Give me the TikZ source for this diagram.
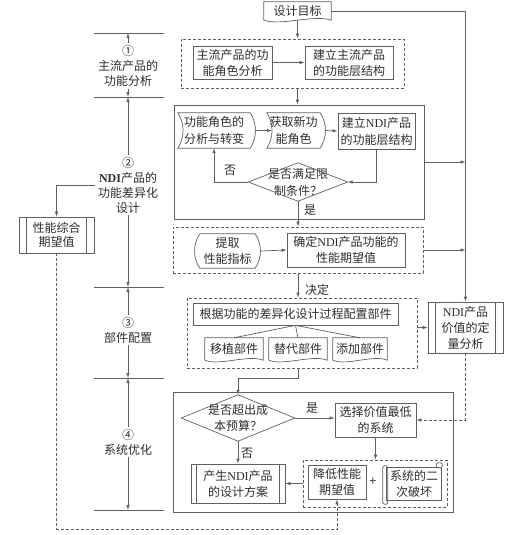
\documentclass[tikz,border=0pt]{standalone}
\usepackage{fontspec}
\setmainfont{Noto Sans CJK SC}
\newfontfamily\lat{Liberation Serif}
\usetikzlibrary{arrows.meta,calc}
\definecolor{lnc}{RGB}{95,95,95}
\definecolor{txc}{RGB}{45,45,45}
\newcommand\NDI{{\lat NDI}}
\newcommand\NDIb{{\lat\bfseries NDI}}
\newcommand\docshape[1]{\draw[ln] (#1.north west) -- (#1.north east) -- (#1.south east) .. controls ($(#1.south)!0.5!(#1.south east)+(0,6pt)$) and ($(#1.south)!0.5!(#1.south west)+(0,-6pt)$) .. (#1.south west) -- cycle;}
\newcommand\sdshape[3]{\draw[ln] (#1.north west) .. controls ($(#1.north west)!0.3!(#1.south west)+(#2,0)$) and ($(#1.north west)!0.7!(#1.south west)+(#2,0)$) .. (#1.south west) -- (#1.south east) .. controls ($(#1.north east)!0.7!(#1.south east)+(#3,0)$) and ($(#1.north east)!0.3!(#1.south east)+(#3,0)$) .. (#1.north east) -- cycle;}
\newcommand\diashape[1]{\draw[ln] (#1.north) -- (#1.east) -- (#1.south) -- (#1.west) -- cycle;}
\newcommand\subr[2]{\draw[ln] ([xshift=#2]#1.north west) -- ([xshift=#2]#1.south west); \draw[ln] ([xshift=-#2]#1.north east) -- ([xshift=-#2]#1.south east);}
\begin{document}
\begin{tikzpicture}[x=1pt,y=-1pt,
 ln/.style={draw=lnc, line width=0.7pt},
 arr/.style={ln, -{Latex[length=5pt,width=3.5pt]}},
 dim/.style={ln, {Latex[length=5pt,width=3.5pt]}-{Latex[length=5pt,width=3.5pt]}},
 dsh/.style={ln, dash pattern=on 3pt off 2pt},
 darr/.style={arr, dash pattern=on 3pt off 2pt},
 wh/.style 2 args={minimum width=#1, minimum height=#2},
 txt/.style={text=txc, font=\fontsize{12}{16}\selectfont, align=center, inner sep=0pt},
 box/.style={txt, ln, rectangle},
 bare/.style={txt, rectangle},
 lab/.style={txt, fill=white, inner sep=2pt, font=\fontsize{12}{15}\selectfont},
]
\useasboundingbox (0,0) rectangle (525,535);

% ---------- left column ----------
\foreach \yy in {33,97,287,378,510} {\draw[ln] (94,\yy) -- (164,\yy);}
\draw[dim] (128,33) -- (128,97);
\draw[dim] (128,97) -- (128,287);
\draw[dim] (128,287) -- (128,378);
\draw[dim] (128,378) -- (128,510);
\node[lab] (L1) at (128,66) {①\\主流产品的\\功能分析};
\node[lab] (L2) at (128,185) {②\\\NDIb 产品的\\功能差异化\\设计};
\node[lab] (L3) at (128,330) {③\\部件配置};
\node[lab] (L4) at (128,442) {④\\系统优化};

\node[box, wh={75}{36}, font=\fontsize{12}{14}\selectfont] (p) at (56.5,235) {性能综合\\期望值};
\subr{p}{8pt}
\coordinate (pl) at (95,185);
\draw[arr] (pl) -| (p.north);

% ---------- containers ----------
\node[dsh, wh={223}{49}] (d1) at (292.5,63.5) {};
\node[ln, rectangle, wh={250}{114}] (s2) at (299,162) {};
\node[dsh, wh={250}{46}] (d3) at (298,250) {};
\node[dsh, wh={230}{70}] (d4) at (302,333) {};
\node[ln, rectangle, wh={280}{120}] (s5) at (313,452) {};
\node[dsh, wh={144}{47}] (d6) at (375,483.5) {};

% ---------- top ----------
\node[bare, wh={67}{18}] (goal) at (297.5,11) {设计目标};
\docshape{goal}
\node[box, wh={79}{33}] (a1) at (232.5,62.5) {主流产品的功\\能角色分析};
\node[box, wh={88}{33}] (a2) at (349,62.5) {建立主流产品\\的功能层结构};
\draw[arr] (a1) -- (a2);
\draw[arr] (goal.south) -- (goal.south|-d1.north);
\draw[arr] (goal.south|-d1.south) -- (goal.south|-s2.north);

% ---------- section 2 ----------
\node[bare, wh={72}{35}, font=\fontsize{12}{17}\selectfont] (b1) at (214,130.5) {功能角色的\\分析与转变};
\sdshape{b1}{7pt}{7pt}
\node[bare, wh={53}{35}, font=\fontsize{12}{17}\selectfont] (b2) at (293.5,130.5) {获取新功\\能角色};
\sdshape{b2}{7pt}{7pt}
\node[box, wh={77}{36}, font=\fontsize{12}{17}\selectfont] (b3) at (376.5,131) {建立\NDI 产品\\的功能层结构};
\draw[arr] ([xshift=5pt]b1.east) -- ([xshift=5pt]b2.west);
\draw[arr] ([xshift=5pt]b2.east) -- (b3.west);
\node[bare, wh={99}{38}, font=\fontsize{12}{17}\selectfont] (c1) at (298,182) {是否满足限\\制条件？};
\diashape{c1}
\draw[arr] (b3.south) |- (c1.east);
\draw[arr] (c1.west) -| (b1.south);
\node[txt] (no1) at (230,170) {否};
\draw[arr] (c1.south) -- (c1.south|-d3.north);
\node[txt] (yes1) at (310,210) {是};

% ---------- right trunk ----------
\node[box, wh={75}{51}, font=\fontsize{12}{16}\selectfont] (q) at (465.5,327.5) {\NDI 产品\\价值的定\\量分析};
\subr{q}{8pt}
\draw[arr] (goal.east) -| (q.north);
\draw[arr] (s2.east) -- (s2.east-|q.north);
\draw[arr] (d3.east) -- (d3.east-|q.north);

% ---------- section 2b ----------
\node[bare, wh={55}{34}] (e1) at (227.5,251) {提取\\性能指标};
\sdshape{e1}{-7pt}{7pt}
\node[box, wh={118}{34}] (e2) at (346,250) {确定\NDI 产品功能的\\性能期望值};
\draw[arr] ([xshift=5pt]e1.east) -- (e2.west);
\draw[arr] (d3.south) -- (d3.south|-d4.north);
\node[txt] (jd) at (317,290) {决定};

% ---------- section 3 ----------
\node[box, wh={205}{22}] (f0) at (295.5,314) {根据功能的差异化设计过程配置部件};
\node[bare, wh={58}{22}] (f1) at (234,349) {移植部件};
\docshape{f1}
\node[bare, wh={58}{22}] (f2) at (298,349) {替代部件};
\docshape{f2}
\node[bare, wh={54}{22}] (f3) at (360,349) {添加部件};
\docshape{f3}
\draw[ln] (f0.south) -- (f1.north);
\draw[ln] (f0.south) -- (f2.north);
\draw[ln] (f0.south) -- (f3.north);
\draw[arr] (d4.east|-q.west) -- (q.west);

% ---------- section 4 ----------
\node[bare, wh={113}{46}] (c2) at (238,418) {是否超出成\\本预算？};
\diashape{c2}
\draw[arr] (f2.south|-d4.south) -- ++(0,10) -| (c2.north);
\node[box, wh={81}{34}] (h1) at (375.5,420) {选择价值最低\\的系统};
\draw[arr] (c2.east) -- (c2.east-|h1.west);
\node[txt] (yes2) at (312,408) {是};
\draw[arr] (h1.south) -- (h1.south|-d6.north);
\node[box, wh={58}{34}] (g1) at (337,482) {降低性能\\期望值};
\node[txt] (plus) at (373,482) {+};
\node[bare, wh={54}{32}] (g2) at (414,484) {系统的二\\次破坏};
\draw[ln] (g2.north west) rectangle (g2.south east);
\draw[ln, rounded corners=1.5pt] ([xshift=-4pt,yshift=2pt]g2.north west) rectangle ([xshift=1pt,yshift=-4pt]g2.south west);
\draw[ln, rounded corners=1.5pt] ([xshift=-5pt,yshift=5pt]g2.north east) rectangle ([xshift=1pt]g2.north east);
\node[box, wh={94}{39}] (out) at (238,483.5) {产生\NDI 产品\\的设计方案};
\subr{out}{6pt}
\draw[arr] (d6.west) -- (out.east);
\draw[arr] (c2.south) -- (out.north);
\node[txt] (no2) at (247,453) {否};
\draw[darr] (q.south) |- (h1.east);
\draw[darr] (p.south) -- ++(0,276) -| (g1.south);
\end{tikzpicture}
\end{document}
